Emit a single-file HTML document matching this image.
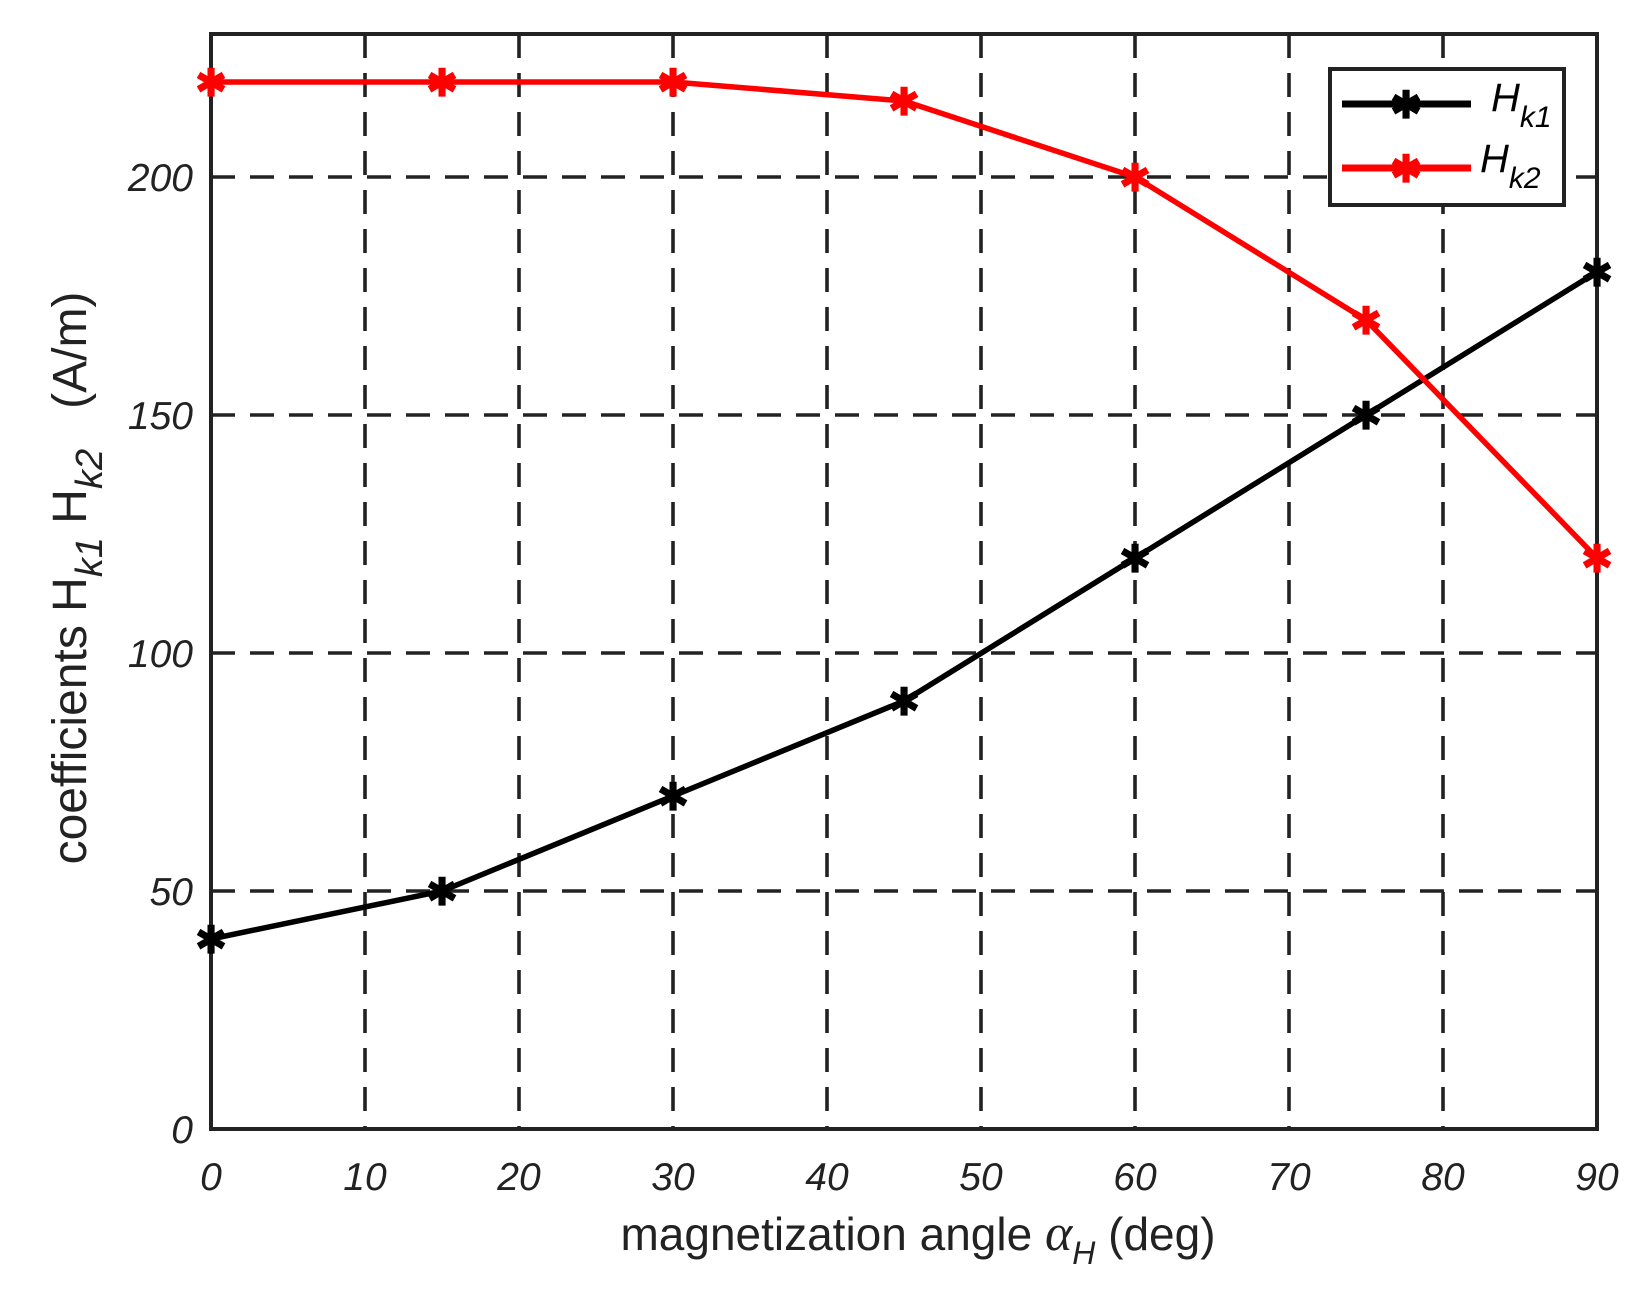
<!DOCTYPE html>
<html><head><style>html,body{margin:0;padding:0;background:#fff}</style></head>
<body>
<svg width="1651" height="1291" viewBox="0 0 1651 1291" xmlns="http://www.w3.org/2000/svg" font-family="Liberation Sans, Arial, sans-serif">
<rect width="1651" height="1291" fill="#fff"/>
<g stroke="#222" stroke-width="3.6" stroke-dasharray="24,15">
<line x1="365" y1="34" x2="365" y2="1129"/><line x1="519" y1="34" x2="519" y2="1129"/><line x1="673" y1="34" x2="673" y2="1129"/><line x1="827" y1="34" x2="827" y2="1129"/><line x1="981" y1="34" x2="981" y2="1129"/><line x1="1135" y1="34" x2="1135" y2="1129"/><line x1="1289" y1="34" x2="1289" y2="1129"/><line x1="1443" y1="34" x2="1443" y2="1129"/>
<line x1="211" y1="891" x2="1597" y2="891"/><line x1="211" y1="653" x2="1597" y2="653"/><line x1="211" y1="415" x2="1597" y2="415"/><line x1="211" y1="177" x2="1597" y2="177"/>
</g>
<rect x="211" y="34" width="1386" height="1095" fill="none" stroke="#222" stroke-width="4"/>
<polyline fill="none" stroke="#000" stroke-width="5.5" points="211,939 442,891 673,796 904,701 1135,558 1366,415 1597,272"/>
<polyline fill="none" stroke="#f00" stroke-width="5.5" points="211,82 442,82 673,82 904,101 1135,177 1366,320 1597,558"/>
<g font-size="38" font-weight="bold" text-anchor="middle" dominant-baseline="central">
<g fill="#000"><text x="211" y="941">✱</text><text x="442" y="893">✱</text><text x="673" y="798">✱</text><text x="904" y="703">✱</text><text x="1135" y="560">✱</text><text x="1366" y="417">✱</text><text x="1597" y="274">✱</text></g>
<g fill="#f00"><text x="211" y="84">✱</text><text x="442" y="84">✱</text><text x="673" y="84">✱</text><text x="904" y="103">✱</text><text x="1135" y="179">✱</text><text x="1366" y="322">✱</text><text x="1597" y="560">✱</text></g>
</g>
<g font-size="39" font-style="italic" fill="#222" text-anchor="end">
<text x="193" y="1143">0</text><text x="193" y="905">50</text><text x="193" y="667">100</text><text x="193" y="429">150</text><text x="193" y="191">200</text>
</g>
<g font-size="39" font-style="italic" fill="#222" text-anchor="middle">
<text x="211" y="1190">0</text><text x="365" y="1190">10</text><text x="519" y="1190">20</text><text x="673" y="1190">30</text><text x="827" y="1190">40</text><text x="981" y="1190">50</text><text x="1135" y="1190">60</text><text x="1289" y="1190">70</text><text x="1443" y="1190">80</text><text x="1597" y="1190">90</text>
</g>
<text x="918" y="1250" font-size="46" fill="#222" text-anchor="middle">magnetization angle <tspan font-style="italic" font-family="Liberation Serif, serif" font-size="52">α</tspan><tspan font-style="italic" font-size="32" dy="14">H</tspan><tspan dy="-14"> (deg)</tspan></text>
<text transform="translate(86,578) rotate(-90)" font-size="48" fill="#222" text-anchor="middle" xml:space="preserve">coefficients H<tspan font-style="italic" font-size="38" dy="16">k1</tspan><tspan dy="-16"> H</tspan><tspan font-style="italic" font-size="38" dy="16">k2</tspan><tspan dy="-16">   (A/m)</tspan></text>
<rect x="1330" y="69" width="234" height="136" fill="#fff" stroke="#222" stroke-width="4"/>
<line x1="1342" y1="104" x2="1471" y2="104" stroke="#000" stroke-width="7"/>
<line x1="1342" y1="168" x2="1471" y2="168" stroke="#f00" stroke-width="7"/>
<text x="1406" y="106" font-size="38" font-weight="bold" fill="#000" text-anchor="middle" dominant-baseline="central">✱</text>
<text x="1406" y="170" font-size="38" font-weight="bold" fill="#f00" text-anchor="middle" dominant-baseline="central">✱</text>
<text x="1491" y="111" font-size="40" font-style="italic" fill="#000">H<tspan font-size="30" dy="16">k1</tspan></text>
<text x="1480" y="172" font-size="40" font-style="italic" fill="#000">H<tspan font-size="30" dy="16">k2</tspan></text>
</svg>
</body></html>
